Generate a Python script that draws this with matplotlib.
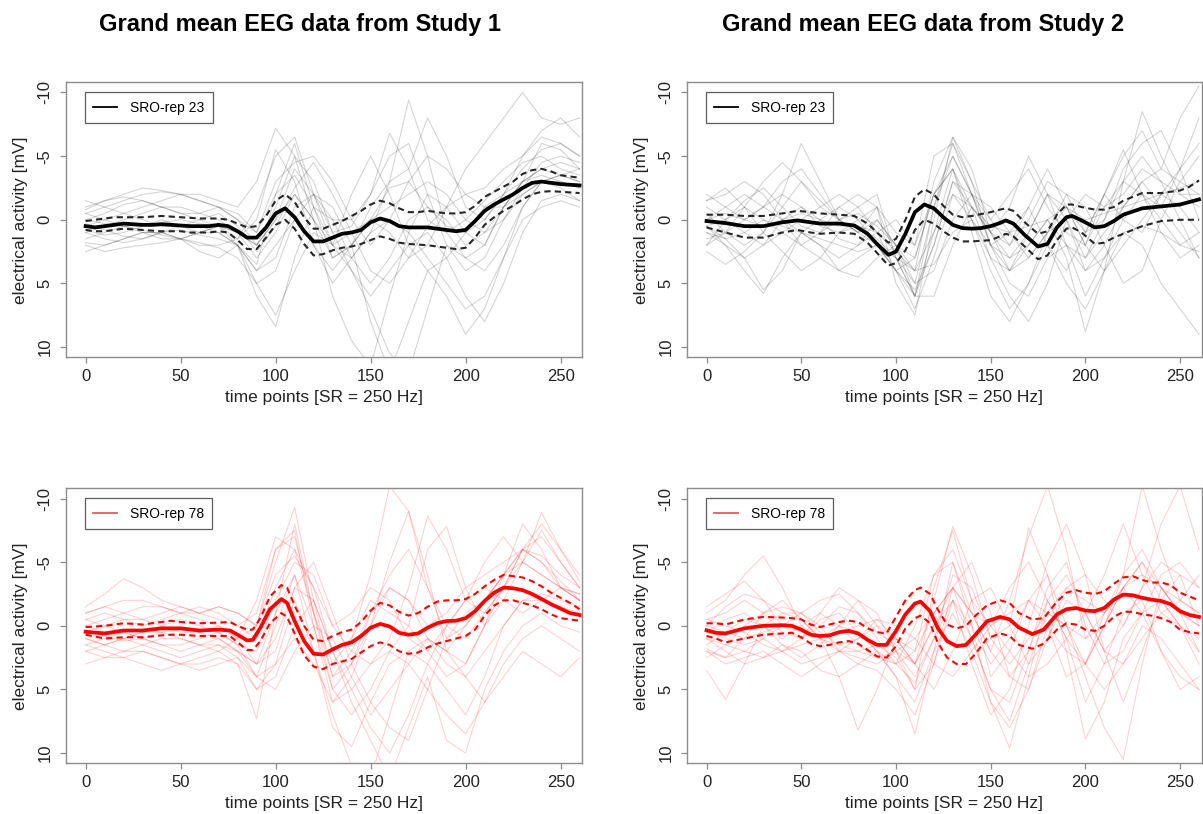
import matplotlib.pyplot as plt
from matplotlib.lines import Line2D

plt.rcParams['font.family'] = ['Liberation Sans', 'DejaVu Sans']
plt.rcParams['axes.unicode_minus'] = False

# time grid of the single-subject curves
t_grid = list(range(0, 261, 10))

# ---------- Study 1, SRO-rep 23 (black) ----------
s1_black_t = list(range(0, 261, 5))
s1_black_mean = [0.5, 0.6, 0.5, 0.4, 0.3, 0.35, 0.4, 0.4, 0.35, 0.4, 0.45, 0.5, 0.5, 0.5, 0.4, 0.5,
                 0.9, 1.4, 1.4, 0.6, -0.5, -0.9, -0.2, 0.9, 1.7, 1.7, 1.4, 1.1, 1.0, 0.8, 0.2, -0.1,
                 0.1, 0.5, 0.6, 0.6, 0.6, 0.7, 0.8, 0.9, 0.8, 0.1, -0.7, -1.2, -1.6, -2.0, -2.5,
                 -2.9, -3.0, -2.9, -2.8, -2.75, -2.7]
s1_black_upper = [0.1, 0.0, -0.1, -0.2, -0.2, -0.2, -0.2, -0.25, -0.3, -0.25, -0.2, -0.15, -0.1, -0.1,
                  -0.1, 0.0, 0.3, 0.6, 0.5, -0.3, -1.5, -2.0, -1.4, -0.2, 0.7, 0.7, 0.4, 0.1, -0.3,
                  -0.7, -1.2, -1.5, -1.3, -0.9, -0.6, -0.6, -0.7, -0.6, -0.5, -0.5, -0.6, -1.1, -1.8,
                  -2.2, -2.6, -3.0, -3.6, -3.9, -4.0, -3.8, -3.5, -3.4, -3.3]
s1_black_lower = [0.8, 0.9, 0.9, 0.8, 0.7, 0.75, 0.8, 0.85, 0.9, 0.9, 0.9, 1.0, 1.0, 1.0, 0.9, 1.0,
                  1.6, 2.3, 2.3, 1.4, 0.4, 0.0, 0.7, 1.9, 2.8, 2.7, 2.4, 2.2, 2.1, 1.9, 1.6, 1.3,
                  1.5, 1.8, 1.9, 1.95, 2.0, 2.1, 2.2, 2.3, 2.2, 1.4, 0.4, -0.2, -0.7, -1.1, -1.6,
                  -2.0, -2.2, -2.25, -2.2, -2.15, -2.1]
s1_black_subjects = [
    [1.0, 1.5, 1.8, 1.5, 1.0, 0.8, 1.2, 1.5, 2.0, 3.5, -2.0, -6.0, -1.0, 3.0, 2.0, 0.0, -2.5, -3.0, -1.0, 0.5, 1.0, 0.0, -2.0, -4.0, -5.5, -6.0, -5.0],
    [-0.5, -1.0, -1.5, -2.0, -2.2, -2.0, -1.5, -1.0, 0.0, 2.0, 0.0, -4.0, -2.0, 1.0, 0.5, -2.0, -6.8, -4.0, 0.0, 1.0, 0.0, -1.5, -3.0, -4.5, -5.0, -4.0, -3.5],
    [2.0, 2.5, 2.2, 2.0, 1.8, 1.5, 1.8, 2.2, 3.0, 5.0, 7.5, 4.0, 1.0, 2.0, 4.0, 6.0, 4.0, 2.0, 1.0, 3.0, 6.0, 8.0, 5.0, 1.0, -1.5, -2.0, -1.5],
    [0.0, -0.5, -1.2, -1.5, -1.0, -0.5, 0.0, 0.5, 1.5, 0.0, -5.5, -3.0, 2.0, 4.0, 2.0, 0.0, -1.0, -2.0, -3.0, -2.0, 0.0, 1.0, 0.0, -2.5, -4.5, -5.0, -4.5],
    [1.5, 1.0, 0.5, 0.8, 1.2, 1.5, 1.0, 0.5, 1.0, 3.0, 1.0, -2.0, 0.0, 6.0, 9.5, 11.5, 6.0, 1.0, -2.0, -1.0, 1.0, 2.0, -1.0, -3.0, -3.5, -3.0, -2.5],
    [-1.0, -1.5, -1.8, -1.5, -1.0, -0.5, -0.5, -1.0, -0.5, 1.0, -2.0, -3.5, -1.0, 2.0, 3.0, 1.0, -3.0, -9.4, -5.0, 1.0, 3.0, 2.0, -1.0, -3.0, -6.0, -5.5, -4.0],
    [0.5, 0.0, -0.5, 0.0, 0.5, 0.5, 0.0, -0.5, 0.5, 2.5, 0.5, -2.5, -4.5, -2.0, 1.0, 4.0, 5.0, 3.0, 0.5, -1.0, -2.0, -2.5, -4.0, -5.0, -6.5, -6.0, -5.0],
    [2.5, 2.0, 1.5, 1.0, 1.0, 1.5, 2.5, 3.0, 2.0, 4.0, 2.0, 0.0, 2.0, 5.0, 3.0, 1.0, 0.0, 1.0, 3.0, 5.0, 7.0, 6.0, 3.0, 0.0, -1.0, -1.5, -1.0],
    [-1.5, -1.0, -0.5, -1.0, -1.5, -2.0, -2.0, -1.5, -1.0, -3.0, -7.2, -5.0, 0.0, 3.0, 2.0, -1.0, -3.0, -4.0, -8.0, -5.0, -1.0, 0.0, -2.0, -5.0, -7.0, -8.0, -6.5],
    [0.8, 1.2, 1.0, 0.5, 0.0, 0.5, 1.0, 1.0, 2.0, 6.0, 8.4, 3.0, -1.0, 0.0, 3.0, 5.0, 3.0, 0.0, -1.0, 0.0, 2.0, 1.0, -1.0, -3.0, -4.0, -3.5, -3.0],
    [0.0, 0.3, 0.5, 0.5, 0.2, 0.0, 0.3, 0.5, 1.0, 2.0, -1.0, -5.0, -3.0, 1.0, 4.0, 7.0, 10.5, 12.0, 7.0, 2.0, 3.0, 4.0, 2.0, -1.0, -3.0, -3.5, -3.0],
    [1.0, 0.5, 0.0, -0.5, -1.0, -1.0, -0.5, 0.0, 1.0, 2.0, 0.0, -2.0, 0.0, 2.0, 1.0, 0.0, 1.0, 3.0, 2.0, -1.0, -4.0, -6.0, -8.0, -10.0, -8.0, -7.5, -8.0],
    [-0.5, 0.0, 0.5, 1.0, 1.5, 1.5, 1.0, 0.5, 2.0, 5.0, 4.0, 0.0, -2.0, -1.0, 2.0, 8.0, 12.0, 8.0, 4.0, 6.0, 9.0, 7.0, 3.0, -1.0, -3.0, -3.0, -2.5],
    [1.8, 2.0, 1.5, 1.0, 1.0, 1.5, 2.0, 2.0, 1.5, -1.0, -5.0, -6.5, -2.0, 2.0, -2.0, -5.0, -2.0, 2.0, 4.0, 3.0, 1.0, -1.0, -2.0, -3.0, -4.0, -4.5, -4.0],
    [0.3, 0.8, 1.3, 1.5, 1.0, 0.5, 0.5, 1.0, 2.0, 4.0, 3.0, -1.0, -2.0, 0.0, 0.0, -2.0, -5.0, -6.0, -2.0, 2.0, 4.0, 3.0, 0.0, -2.0, -3.0, -2.5, -1.5],
    [-0.8, -1.5, -2.0, -2.5, -2.3, -2.0, -1.5, -1.0, 0.0, 1.0, -3.0, -4.5, -5.0, -3.0, 0.0, 2.0, 0.0, -3.0, -5.0, -4.0, -2.0, -1.0, -1.0, -2.0, -3.0, -3.5, -4.0],
]

# ---------- Study 2, SRO-rep 23 (black) ----------
s2_black_t = [0, 10, 20, 30, 40, 48, 55, 60, 70, 78, 85, 90, 96, 100, 105, 110, 115, 120, 125, 130, 135,
              140, 145, 150, 155, 158, 162, 168, 175, 180, 185, 190, 193, 198, 205, 210, 215, 220,
              230, 240, 250, 255, 260]
s2_black_mean = [0.1, 0.26, 0.5, 0.5, 0.2, 0.05, 0.2, 0.3, 0.3, 0.45, 1.1, 1.9, 2.75, 2.5, 1.1, -0.6,
                 -1.2, -0.9, -0.2, 0.4, 0.65, 0.7, 0.65, 0.5, 0.25, 0.05, 0.3, 1.2, 2.1, 1.9, 0.6,
                 -0.2, -0.3, 0.05, 0.6, 0.5, 0.1, -0.4, -0.9, -1.05, -1.2, -1.4, -1.6]
s2_black_upper = [-0.4, -0.4, -0.3, -0.3, -0.5, -0.7, -0.6, -0.5, -0.4, -0.3, 0.3, 1.0, 1.8, 1.5, 0.0,
                  -1.8, -2.4, -2.0, -1.1, -0.4, -0.2, -0.3, -0.45, -0.6, -0.8, -0.9, -0.7, 0.2, 1.1,
                  0.9, -0.4, -1.2, -1.2, -1.0, -0.8, -0.8, -1.0, -1.5, -2.1, -2.1, -2.3, -2.6, -3.1]
s2_black_lower = [0.6, 1.0, 1.4, 1.4, 1.0, 0.8, 1.0, 1.1, 1.0, 1.1, 1.8, 2.6, 3.6, 3.4, 2.4, 0.8, 0.0,
                  0.3, 0.9, 1.4, 1.7, 1.7, 1.65, 1.6, 1.3, 1.1, 1.3, 2.1, 3.1, 2.8, 1.6, 0.7, 0.6,
                  1.0, 1.9, 1.8, 1.4, 1.1, 0.5, 0.1, 0.0, 0.0, 0.0]
s2_black_subjects = [
    [2.0, 1.0, -1.0, -3.0, -4.5, -3.0, -1.0, 0.0, -1.0, -2.0, 3.0, 6.0, -1.0, -5.0, -2.0, 2.0, 1.0, -1.0, 2.0, 4.0, 1.0, -2.0, 0.0, 1.0, -2.0, -4.0, -6.0],
    [-1.5, -2.5, -1.0, 1.0, -2.0, -6.0, -3.0, 0.0, 1.0, -1.0, 5.0, 7.5, 0.0, -6.5, -3.0, 2.0, 3.0, 1.0, -2.0, 0.0, 4.0, 2.0, -1.0, -3.0, -1.0, 1.0, 3.0],
    [0.5, 1.5, 3.0, 5.5, 4.0, 1.0, 0.0, -1.0, 0.0, 2.0, 4.0, 5.5, 2.0, -3.0, -1.0, 3.0, 6.0, 8.0, 5.0, 0.0, -2.0, -1.0, -2.0, -4.0, -3.0, -2.0, -1.0],
    [-1.0, 0.0, -1.5, -2.5, -1.0, 0.5, 1.0, 0.0, -0.5, 0.5, 2.0, 4.0, -3.0, -6.5, -4.0, 1.0, 4.0, 2.0, 0.0, 3.0, 8.8, 4.0, -3.0, -8.5, -5.0, -2.0, -2.0],
    [2.5, 3.5, 2.5, 1.0, 2.5, 4.0, 3.0, 1.0, 0.5, 1.5, 3.0, 5.0, 4.0, 0.0, -2.0, -1.0, 1.0, 3.0, 1.0, -2.0, -1.0, 2.0, 5.0, 4.0, 0.0, -3.0, -5.0],
    [0.0, -1.0, -2.0, -1.0, 0.0, 1.0, 2.0, 3.0, 2.0, 0.0, 2.0, 3.0, -2.0, -4.0, -1.0, 1.0, -1.0, -5.0, -2.0, 2.0, 3.0, 0.0, -4.0, -6.0, -7.0, -4.0, 0.0],
    [1.0, 2.0, 4.0, 5.8, 3.0, 1.0, 2.0, 4.0, 3.0, 2.0, 4.0, 7.0, 3.0, -2.0, 0.0, 4.0, 7.0, 5.0, 2.0, 5.0, 7.0, 4.0, 1.0, 2.0, 5.0, 7.0, 9.0],
    [-1.5, -2.0, -3.0, -2.0, 0.0, 2.0, 1.0, -1.0, -2.0, -1.0, 1.0, 2.0, -5.0, -6.0, -2.0, 1.0, 2.0, 0.0, -3.0, -2.0, 1.0, -2.0, -5.0, -7.0, -4.0, -8.0, -10.5],
    [0.5, 0.0, 1.0, 2.0, 1.0, 0.0, -1.0, -2.0, -1.0, 1.0, 4.0, 6.0, 1.0, -4.0, 0.0, 3.0, 4.0, 3.0, 1.0, -1.0, 2.0, 4.0, 2.0, 0.0, -2.0, -1.0, 1.0],
    [1.5, 1.0, 0.0, -1.0, -2.0, -1.0, 0.5, 1.0, 0.0, -1.0, 3.0, 6.0, 2.0, -3.0, -2.0, 0.0, 2.0, -1.0, -4.0, -1.0, 2.0, -2.0, -5.5, -2.0, 1.0, 3.0, 2.0],
    [-0.5, 1.0, 2.0, 1.0, -1.0, -3.0, -1.5, 0.0, 1.0, 2.0, 4.0, 3.0, -2.0, -4.0, 1.0, 6.0, 8.0, 5.0, 1.0, 0.0, 3.0, 1.0, -1.0, -3.0, -4.0, -3.0, -2.0],
    [0.0, -0.5, 0.0, 0.5, 0.0, -0.5, 0.0, 0.5, 0.5, 1.0, 2.5, 4.0, 1.0, -2.0, -1.0, 0.5, 1.0, 0.5, 0.0, -1.0, 0.0, -0.5, -1.0, -1.5, -2.0, -2.5, -3.0],
    [2.0, 0.0, -1.0, 0.0, 1.0, 2.0, 3.0, 4.0, 4.5, 3.0, 2.0, 6.0, 6.0, 2.0, -1.0, 1.0, 3.0, 2.0, 0.0, 2.0, 6.0, 3.0, 0.0, -2.0, 0.0, 2.0, 1.0],
    [-2.0, -1.0, 0.0, -1.0, -3.0, -4.0, -2.0, 0.0, 1.0, 0.0, 2.0, 5.0, -1.0, -6.0, -3.0, 0.0, -2.0, -4.0, -1.0, 1.0, 2.0, -1.0, -3.0, -2.0, -1.0, -4.0, -8.0],
    [1.0, 1.5, 1.0, 0.0, 0.5, 1.0, 1.5, 2.0, 2.5, 2.0, 3.0, 4.0, 3.5, 1.0, 0.0, 2.0, 5.0, 6.0, 3.0, 2.0, 4.0, 3.0, 1.0, 0.5, 1.0, 2.0, 2.5],
    [0.5, 2.0, 3.0, 2.0, 0.0, -1.0, 0.0, 1.5, 2.0, 1.0, 0.0, 2.0, -2.0, -5.0, -2.0, 2.0, 4.0, 1.0, -2.0, -1.0, 1.0, 0.0, -3.0, -5.0, -3.0, 0.0, 3.0],
]

# ---------- Study 1, SRO-rep 78 (red) ----------
s1_red_t = [0, 10, 20, 30, 40, 45, 50, 60, 70, 76, 80, 85, 88, 92, 97, 103, 106, 110, 115, 120, 125,
            130, 135, 140, 145, 150, 155, 160, 165, 170, 175, 180, 185, 190, 195, 200, 205, 210,
            215, 220, 225, 230, 235, 240, 245, 250, 255, 260]
s1_red_mean = [0.47, 0.6, 0.37, 0.37, 0.2, 0.2, 0.2, 0.37, 0.3, 0.37, 0.7, 1.15, 1.1, 0.15, -1.3,
               -2.1, -1.8, -0.37, 1.2, 2.2, 2.25, 1.85, 1.5, 1.3, 0.8, 0.15, -0.15, 0.05, 0.55, 0.7,
               0.6, 0.15, -0.2, -0.37, -0.4, -0.6, -1.15, -1.95, -2.6, -3.0, -2.95, -2.8, -2.5,
               -2.1, -1.7, -1.35, -1.0, -0.85]
s1_red_upper = [0.1, 0.0, -0.2, -0.1, -0.3, -0.4, -0.3, -0.2, -0.25, -0.3, 0.0, 0.3, 0.3, -0.6, -2.3,
                -3.2, -3.0, -1.6, 0.0, 1.1, 1.2, 0.8, 0.5, 0.3, -0.3, -1.2, -1.8, -1.6, -1.1, -0.8,
                -1.0, -1.5, -1.9, -2.0, -2.0, -2.1, -2.5, -3.1, -3.6, -4.0, -3.9, -3.8, -3.5, -3.1,
                -2.6, -2.2, -1.8, -1.3]
s1_red_lower = [0.7, 1.0, 0.9, 0.9, 0.75, 0.7, 0.7, 0.8, 0.8, 0.8, 1.3, 1.9, 1.9, 1.2, -0.2, -1.0,
                -0.7, 0.6, 2.3, 3.2, 3.4, 3.0, 2.8, 2.6, 2.1, 1.6, 1.3, 1.5, 2.0, 2.2, 2.1, 1.7, 1.4,
                1.2, 1.0, 0.8, 0.3, -0.8, -1.6, -2.0, -2.0, -1.8, -1.6, -1.3, -0.9, -0.6, -0.5, -0.4]
s1_red_subjects = [
    [1.0, 1.5, 2.0, 1.5, 1.0, 1.0, 1.5, 2.0, 3.0, 7.3, -1.0, -8.0, -1.0, 5.0, 3.0, 0.0, -3.0, -2.0, 1.0, 2.0, 0.0, -2.0, -4.0, -6.0, -5.0, -3.0, -2.0],
    [-1.5, -2.5, -3.7, -3.0, -2.0, -1.5, -1.0, -1.5, -1.0, 0.0, -5.0, -9.3, -2.0, 4.0, 2.0, -1.0, -4.0, -6.0, -3.0, 0.0, 1.0, -1.0, -3.0, -5.0, -7.5, -5.0, -3.0],
    [2.0, 2.5, 2.5, 2.0, 2.5, 3.0, 3.0, 2.5, 3.0, 5.0, 3.0, -2.0, 2.0, 8.0, 9.5, 6.0, 3.0, 2.0, 3.0, 5.0, 7.0, 4.0, 0.0, -2.0, -2.0, -1.5, -1.0],
    [0.0, -0.5, -1.0, -1.5, -1.5, -1.0, -0.5, 0.0, 1.0, 0.0, -6.0, -7.5, 0.0, 6.0, 4.0, 0.0, -5.0, -9.0, -4.0, 2.0, 3.0, 0.0, -4.0, -8.0, -6.0, -3.0, -2.5],
    [1.5, 1.0, 0.5, 1.0, 1.5, 2.0, 1.5, 1.0, 2.0, 4.0, 0.0, -4.0, 2.0, 7.0, 11.0, 12.0, 7.0, 2.0, 1.0, 3.0, 4.0, 2.0, 0.0, -2.0, -2.5, -2.0, -1.5],
    [-1.0, -1.5, -1.0, -0.5, -1.0, -1.5, -1.0, -0.5, 0.0, 1.0, -3.0, -6.0, -3.0, 2.0, 1.0, -4.0, -11.0, -9.0, -3.0, 1.0, 0.0, -2.0, -4.0, -6.0, -5.5, -4.0, -3.0],
    [0.5, 0.0, -0.5, -0.5, 0.0, 0.5, 0.5, 0.0, 1.0, 3.0, 2.0, -3.0, -5.0, -1.0, 3.0, 6.0, 8.0, 9.0, 5.0, 1.0, -1.0, -2.0, -4.0, -5.0, -4.0, -3.0, -2.5],
    [3.0, 2.5, 2.0, 2.0, 2.5, 3.0, 3.5, 3.0, 2.5, 4.0, 3.0, 1.0, 3.0, 6.0, 5.0, 3.0, 2.0, 3.0, 5.0, 7.0, 8.5, 6.0, 3.0, 1.0, 0.0, 1.0, 2.0],
    [-0.5, -1.0, -0.5, 0.0, -0.5, -1.0, -1.5, -1.0, 0.0, -1.0, -6.0, -7.0, -1.0, 3.0, 1.0, -2.0, -1.0, 0.0, -6.0, -7.8, -3.0, 0.0, -2.0, -5.0, -8.9, -6.0, -3.5],
    [1.0, 1.5, 1.0, 0.5, 0.5, 1.0, 1.5, 1.5, 2.5, 5.0, 4.0, 0.0, -2.0, 2.0, 6.0, 9.0, 12.0, 8.0, 4.0, 9.0, 10.0, 5.0, 2.0, 0.0, -1.0, 0.0, 0.5],
    [0.0, 0.5, 1.0, 0.5, 0.0, -0.5, 0.0, 0.5, 1.5, 2.0, -2.0, -5.0, -4.0, 0.0, 2.0, 3.0, 1.0, -3.0, -8.6, -6.0, -2.0, -1.0, -3.0, -6.0, -7.0, -5.0, -3.0],
    [2.0, 1.5, 1.0, 1.5, 2.0, 2.5, 2.0, 1.5, 2.0, 3.0, -1.0, -4.0, 0.0, 5.0, 7.0, 5.0, 2.0, 0.0, 2.0, 4.0, 3.0, 0.0, -3.0, -6.0, -8.0, -6.0, -4.0],
    [-0.5, 0.0, 0.5, 1.0, 1.5, 1.5, 1.0, 0.5, 1.5, 4.0, 5.0, 2.0, 0.0, 1.0, 4.0, 7.0, 5.0, 3.0, 1.0, 2.0, 4.0, 6.0, 4.0, 2.0, 3.0, 4.0, 2.5],
    [1.5, 2.0, 2.5, 3.0, 3.5, 3.0, 2.5, 2.0, 1.0, -2.0, -7.0, -6.0, -1.0, 4.0, 3.0, -1.0, -3.0, -2.0, 0.0, -1.0, -3.0, -4.0, -5.0, -6.0, -5.0, -3.5, -2.0],
    [0.3, 0.8, 1.2, 1.0, 0.5, 0.3, 0.5, 1.0, 2.0, 3.0, 1.0, -3.0, -2.0, 2.0, 5.0, 8.0, 10.0, 7.0, 3.0, 0.0, -2.0, -3.0, -2.0, -1.0, -2.0, -3.0, -2.0],
    [-1.0, -1.5, -2.0, -2.0, -1.5, -1.0, -1.0, -1.5, -1.0, 0.0, -4.0, -5.5, -3.0, 0.0, -1.0, -3.0, -2.0, 1.0, 2.0, 0.0, -2.0, -5.0, -7.0, -5.0, -4.0, -3.0, -2.0],
]

# ---------- Study 2, SRO-rep 78 (red) ----------
s2_red_t = [0, 5, 10, 20, 30, 40, 45, 50, 55, 60, 65, 70, 75, 80, 85, 90, 95, 100, 105, 110, 113,
            118, 122, 127, 132, 137, 142, 148, 155, 160, 165, 172, 178, 185, 190, 195, 200, 205,
            210, 215, 220, 225, 230, 235, 240, 245, 250, 255, 260]
s2_red_mean = [0.35, 0.55, 0.6, 0.2, 0.0, -0.05, 0.0, 0.3, 0.7, 0.8, 0.75, 0.5, 0.4, 0.6, 1.1, 1.5,
               1.5, 0.4, -0.9, -1.75, -1.9, -1.15, 0.15, 1.2, 1.6, 1.5, 0.7, -0.35, -0.7, -0.5, 0.15,
               0.65, 0.3, -0.9, -1.3, -1.4, -1.2, -1.15, -1.4, -2.05, -2.45, -2.4, -2.2, -2.05,
               -1.95, -1.7, -1.15, -0.85, -0.7]
s2_red_upper = [-0.2, -0.2, -0.1, -0.5, -0.7, -0.65, -0.6, -0.5, -0.1, 0.1, -0.1, -0.3, -0.4, -0.3,
                0.2, 0.5, 0.6, -0.7, -2.0, -2.8, -3.0, -2.5, -1.3, -0.1, 0.2, 0.0, -0.8, -1.6, -2.0,
                -1.8, -1.0, -0.5, -0.6, -1.9, -2.6, -2.8, -2.6, -2.5, -2.7, -3.3, -3.8, -3.9, -3.6,
                -3.4, -3.4, -3.2, -2.6, -2.3, -2.0]
s2_red_lower = [0.8, 1.0, 1.3, 1.0, 0.7, 0.6, 0.55, 0.9, 1.4, 1.6, 1.5, 1.3, 1.2, 1.4, 1.9, 2.4, 2.5,
                1.6, 0.2, -0.6, -0.8, -0.2, 1.3, 2.5, 3.0, 3.0, 2.2, 1.0, 0.6, 0.8, 1.5, 1.8, 1.4,
                0.3, -0.2, -0.1, 0.3, 0.4, 0.0, -0.7, -1.1, -1.1, -0.9, -0.8, -0.6, -0.3, 0.3, 0.5,
                0.6]
s2_red_subjects = [
    [3.5, 5.8, 3.0, 0.0, -1.0, -0.5, 1.0, 4.0, 8.2, 5.0, 1.0, 3.0, 5.0, 2.0, -2.0, -3.0, 0.0, 3.0, 1.0, -2.0, -1.0, 2.0, 3.0, 1.0, -1.0, 0.0, 2.0],
    [-1.0, -2.0, -4.0, -5.5, -3.0, 0.0, 1.0, 0.0, -2.0, -1.0, 2.0, 5.0, -3.0, -7.5, -2.0, 4.0, 2.0, -2.0, -4.0, 0.0, 3.0, 0.0, -4.0, -6.0, -3.0, -1.0, 0.0],
    [1.5, 0.5, -0.5, 0.0, 1.5, 2.5, 1.5, 0.0, 0.5, 2.0, 4.0, 8.5, 2.0, -5.0, 0.0, 6.0, 9.6, 4.0, -2.0, 1.0, 6.0, 3.0, -1.0, -2.0, 2.0, 5.0, 4.0],
    [-0.5, -1.0, -2.0, -1.0, 0.5, 1.0, 0.0, -1.5, -1.0, 0.5, 1.5, 3.0, -2.0, -7.8, -4.0, 1.0, 0.0, -7.7, -4.0, 2.0, 3.0, 0.0, -3.0, -5.0, -3.0, -1.0, 0.0],
    [2.0, 2.5, 2.0, 1.0, 2.0, 3.0, 2.5, 2.0, 2.5, 3.0, 2.0, 1.0, 3.0, 4.0, 2.0, 0.0, 2.0, 4.0, 3.0, 1.0, 3.0, 5.0, 3.0, 0.0, 1.0, 3.0, 5.0],
    [0.0, -1.5, -2.5, -2.0, -1.0, -1.0, -2.0, -2.5, -1.0, 1.0, 3.0, 0.0, -4.0, -5.0, -1.0, 2.0, -2.0, -7.0, -11.0, -6.0, 1.0, 0.0, -3.0, -5.0, -2.0, 0.0, 1.0],
    [1.0, 2.0, 3.0, 2.5, 1.5, 2.0, 3.5, 4.0, 3.0, 2.0, 4.0, 6.0, 2.0, -1.0, 2.0, 6.0, 8.0, 5.0, 0.0, 2.0, 8.9, 6.0, 1.0, -1.0, -2.0, 0.0, 3.0],
    [-1.5, -2.5, -3.5, -2.0, 0.0, 1.0, -1.0, -3.0, -2.0, 0.0, 1.0, 2.0, -4.0, -6.0, -2.0, 0.0, -3.0, -5.0, -2.0, 1.0, -1.0, -4.0, -8.0, -4.0, -1.0, -2.0, -4.0],
    [0.5, 1.0, 1.5, 1.0, 0.0, -1.0, 0.0, 2.0, 3.0, 3.5, 5.0, 7.0, 3.0, -2.0, 1.0, 5.0, 7.5, 3.0, -1.0, 0.0, 4.0, 8.0, 10.5, 3.0, -3.0, -1.0, 2.0],
    [2.5, 1.5, 0.0, -1.0, -1.5, -1.0, 0.5, 1.5, 1.0, 0.0, 2.0, 4.0, 1.0, -4.0, -3.0, 1.0, 3.0, 1.0, -1.0, -3.0, -2.0, -1.0, -4.0, -11.0, -6.0, -2.0, -1.0],
    [0.0, 0.5, 1.0, 0.5, 0.0, 0.5, 1.0, 1.5, 2.0, 1.5, 2.5, 5.0, 3.0, -3.0, -5.0, -1.0, 4.0, 5.0, 1.0, -3.0, -4.0, -2.0, 0.0, -3.0, -8.0, -11.0, -6.0],
    [1.8, 2.5, 1.0, -1.0, -2.0, -0.5, 1.0, 2.0, 1.0, -0.5, 1.0, 3.0, 0.0, -3.0, -1.0, 2.0, 4.0, 2.0, -2.0, -4.0, -1.0, 2.0, 0.0, -3.0, -5.0, -4.0, -3.0],
    [-0.5, 0.0, 0.5, 1.5, 2.0, 1.0, -0.5, -1.0, 0.5, 2.0, 3.0, 4.5, 1.0, -2.0, 0.0, 3.0, 1.0, -2.0, 0.0, 4.0, 3.0, -1.0, -3.0, -1.0, 2.0, 4.0, 5.0],
    [1.0, 1.5, 2.0, 2.5, 2.0, 1.5, 1.0, 0.5, 0.0, -0.5, 0.0, 1.0, -1.0, -3.0, -1.0, 0.0, -1.0, -2.0, -1.0, 0.0, 1.0, -1.0, -3.0, -4.0, -3.0, -2.0, -1.0],
    [0.5, -0.5, -1.0, 0.0, 1.0, 0.0, -1.0, 0.0, 1.5, 2.5, 3.0, 2.0, -1.0, -3.0, 1.0, 5.0, 6.0, 2.0, -3.0, -5.0, 0.0, 3.0, 2.0, -1.0, -4.0, -5.0, -3.0],
    [2.0, 3.0, 2.5, 2.0, 3.0, 4.0, 3.0, 2.0, 2.0, 2.5, 2.0, 3.0, 0.0, -2.0, 3.0, 7.0, 5.0, 0.0, -5.0, -8.0, -4.0, 2.0, 6.0, 2.0, -2.0, -4.0, 0.0],
]

titles = ['Grand mean EEG data from Study 1', 'Grand mean EEG data from Study 2']


def draw_panel(ax, subjects, t, mean, upper, lower, color, band_color, faint_alpha, label, legend_color):
    for v in subjects:
        ax.plot(t_grid, v, color=color, alpha=faint_alpha, lw=0.8, solid_joinstyle='round')
    ax.plot(t, upper, color=band_color, lw=1.5, ls=(0, (3, 2)))
    ax.plot(t, lower, color=band_color, lw=1.5, ls=(0, (3, 2)))
    ax.plot(t, mean, color=color, lw=2.7, solid_joinstyle='round')

    ax.set_xlim(-10.5, 261.4)
    ax.set_ylim(10.8, -10.8)
    ax.set_xticks([0, 50, 100, 150, 200, 250])
    ax.set_yticks([-10, -5, 0, 5, 10])
    ax.tick_params(length=4.6, width=0.9, color='#8c8c8c', labelsize=12, labelcolor='#222222')
    ax.tick_params(axis='x', pad=3.5)
    ax.tick_params(axis='y', pad=5)
    for lab in ax.get_yticklabels():
        lab.set_rotation(90)
        lab.set_va('center')
    for sp in ax.spines.values():
        sp.set_color('#8c8c8c')
        sp.set_linewidth(1.0)

    ax.set_xlabel('time points [SR = 250 Hz]', fontsize=12.5, color='#222222')
    ax.set_ylabel('electrical activity [mV]', fontsize=12.5, color='#222222')
    ax.xaxis.label.set_va('center')
    ax.yaxis.label.set_va('center')
    ax.xaxis.set_label_coords(0.5, -0.148)
    ax.yaxis.set_label_coords(-0.088, 0.5)

    handle = Line2D([0], [0], color=legend_color, lw=1.3)
    leg = ax.legend([handle], [label], loc='upper left', bbox_to_anchor=(0.037, 0.964),
                    borderaxespad=0, fontsize=10, frameon=True, fancybox=False,
                    handlelength=1.75, handletextpad=0.9, borderpad=0.6)
    leg.get_frame().set_edgecolor('#333333')
    leg.get_frame().set_linewidth(0.9)


fig = plt.figure(figsize=(12.03, 8.14), dpi=100)

ax1 = fig.add_axes([0.0546, 0.5611, 0.4294, 0.3378])
ax2 = fig.add_axes([0.5708, 0.5611, 0.4281, 0.3378])
ax3 = fig.add_axes([0.0546, 0.0623, 0.4294, 0.3378])
ax4 = fig.add_axes([0.5708, 0.0623, 0.4281, 0.3378])

draw_panel(ax1, s1_black_subjects, s1_black_t, s1_black_mean, s1_black_upper, s1_black_lower,
           'black', '#262626', 0.17, 'SRO-rep 23', 'black')
draw_panel(ax2, s2_black_subjects, s2_black_t, s2_black_mean, s2_black_upper, s2_black_lower,
           'black', '#262626', 0.17, 'SRO-rep 23', 'black')
draw_panel(ax3, s1_red_subjects, s1_red_t, s1_red_mean, s1_red_upper, s1_red_lower,
           'red', 'red', 0.18, 'SRO-rep 78', '#e5586a')
draw_panel(ax4, s2_red_subjects, s2_red_t, s2_red_mean, s2_red_upper, s2_red_lower,
           'red', 'red', 0.18, 'SRO-rep 78', '#e5586a')

fig.text(300 / 1203, 1 - 24 / 814, titles[0], ha='center', va='center',
         fontsize=17, fontweight='bold')
fig.text(923 / 1203, 1 - 24 / 814, titles[1], ha='center', va='center',
         fontsize=17, fontweight='bold')

fig.savefig('out.png', dpi=100)
